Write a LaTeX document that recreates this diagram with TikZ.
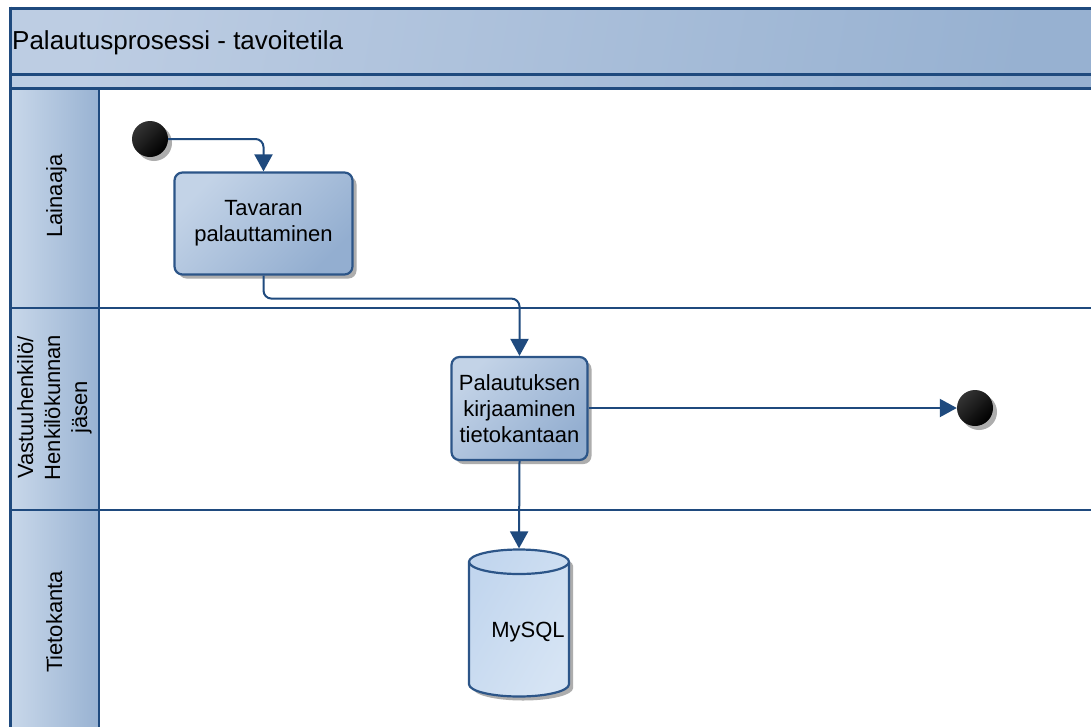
\documentclass[tikz,border=0pt]{standalone}
\usepackage{fontspec}
\setmainfont{Liberation Sans}
\usetikzlibrary{shapes.geometric,shadows,arrows.meta}
\definecolor{linec}{HTML}{1F4A7E}
\definecolor{boxline}{HTML}{2C5588}
\definecolor{titlelight}{HTML}{BDCDE3}
\definecolor{titledark}{HTML}{97B1D1}
\definecolor{boxlight}{HTML}{C3D3E7}
\definecolor{boxdark}{HTML}{93AED0}
\definecolor{lanelight}{HTML}{C9D8EA}
\definecolor{lanedark}{HTML}{98B2D2}
\definecolor{dblight}{HTML}{D6E4F4}
\definecolor{dbdark}{HTML}{C2D6EE}
\begin{document}
\begin{tikzpicture}[x=1pt,y=-1pt,
  txt/.style={font=\fontsize{22}{26}\selectfont, align=center, text=black},
  shadowed/.style={drop shadow={shadow xshift=4pt,shadow yshift=-4pt,fill=black!40,opacity=0.8}},
  actbox/.style={txt, draw=boxline, line width=2.2pt, rounded corners=8pt,
    left color=boxlight, right color=boxdark, shading angle=45, shadowed, inner sep=0pt},
  dot/.style={circle, minimum size=36pt, inner sep=0pt, shadowed,
    left color=black!80, right color=black, shading angle=45},
  conn/.style={draw=linec, line width=2pt, rounded corners=8pt, -{Triangle[length=17pt,width=18pt]}},
  laneline/.style={draw=linec, line width=2pt},
  bandline/.style={draw=linec, line width=3pt},
  lanelabel/.style={font=\fontsize{22}{27}\selectfont, align=center, text=black, rotate=90, inner sep=0pt}
]
\useasboundingbox (0,0) rectangle (1091,726);
\fill[white] (0,0) rectangle (1091,726);
% title band
\shade[left color=titlelight, right color=titledark, shading angle=80] (10,8) rectangle (1095,88);
% lane headers
\shade[left color=lanelight, right color=lanedark] (10,88) rectangle (99,308);
\shade[left color=lanelight, right color=lanedark] (10,308) rectangle (99,510);
\shade[left color=lanelight, right color=lanedark] (10,510) rectangle (99,730);
% band and lane lines
\draw[bandline] (10,8) -- (1095,8);
\draw[bandline] (10,74) -- (1095,74);
\draw[bandline] (10,88) -- (1095,88);
\draw[laneline] (10,308) -- (1095,308);
\draw[laneline] (10,510) -- (1095,510);
\draw[bandline] (10,6.5) -- (10,730);
\draw[laneline] (99,88) -- (99,730);
% texts
\node[anchor=base west, font=\fontsize{26}{30}\selectfont, inner sep=0pt] (title) at (12,49) {Palautusprosessi - tavoitetila};
\node[lanelabel, anchor=base] (lane1) at (62,196) {Lainaaja};
\node[lanelabel, anchor=center] (lane2) at (54.5,407.5) {Vastuuhenkilö/\\Henkilökunnan\\jäsen};
\node[lanelabel, anchor=base] (lane3) at (62,622) {Tietokanta};
% nodes
\node[dot] (start) at (150,139) {};
\node[actbox, minimum width=178pt, minimum height=102pt] (b1) at (263.5,223.5) {Tavaran\\palauttaminen};
\node[actbox, minimum width=136pt, minimum height=103pt] (b2) at (519.5,408.5) {Palautuksen\\kirjaaminen\\tietokantaan};
\node[dot] (end) at (975,408) {};
\node[cylinder, shape border rotate=90, aspect=0.25, draw=boxline, line width=2.2pt,
  left color=dbdark, right color=dblight, shading angle=60, shadowed,
  minimum width=100pt, minimum height=147pt, txt, anchor=shape center] (db) at (519,623) {\hspace*{18pt}MySQL};
% connectors
\draw[conn] (start.east) -| (b1.north);
\draw[conn] (b1.south) -- ++(0,23) -| (b2.north);
\draw[conn] (b2.east |- end.west) -- (end.west);
\draw[conn] (b2.south) -- (db.north);
\end{tikzpicture}
\end{document}
